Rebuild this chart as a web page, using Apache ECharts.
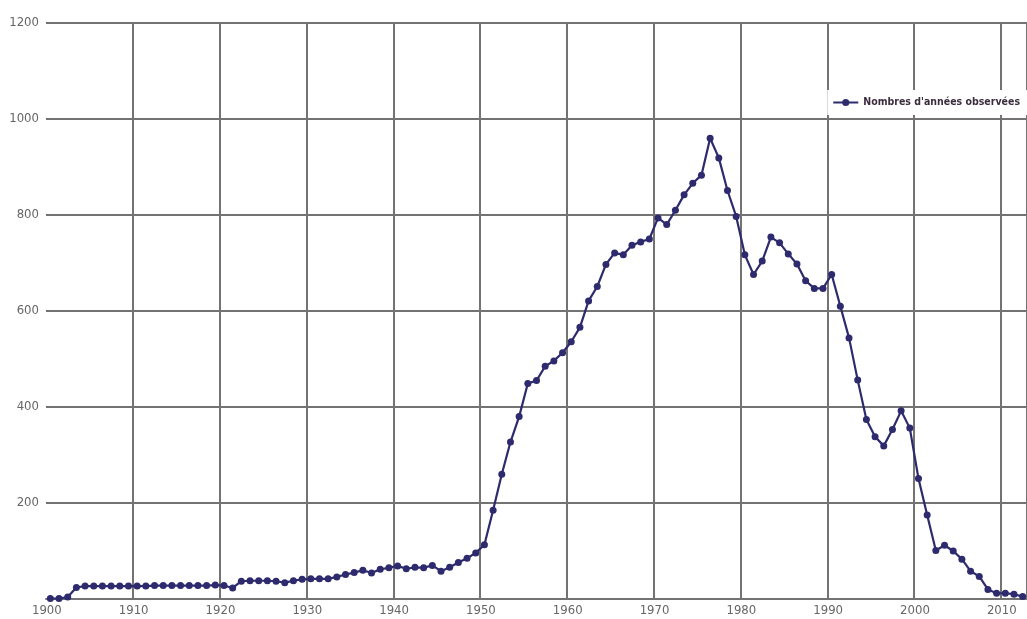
<!DOCTYPE html>
<html>
<head>
<meta charset="utf-8">
<script src="https://cdn.jsdelivr.net/npm/echarts@6/dist/echarts.min.js"></script>
<style>
html,body{margin:0;padding:0;background:#fff;}
#chart{width:1027px;height:619px;}
</style>
</head>
<body>
<div id="chart"></div>
<script>
var years = [
 1900,1901,1902,1903,1904,1905,1906,1907,1908,1909,
 1910,1911,1912,1913,1914,1915,1916,1917,1918,1919,
 1920,1921,1922,1923,1924,1925,1926,1927,1928,1929,
 1930,1931,1932,1933,1934,1935,1936,1937,1938,1939,
 1940,1941,1942,1943,1944,1945,1946,1947,1948,1949,
 1950,1951,1952,1953,1954,1955,1956,1957,1958,1959,
 1960,1961,1962,1963,1964,1965,1966,1967,1968,1969,
 1970,1971,1972,1973,1974,1975,1976,1977,1978,1979,
 1980,1981,1982,1983,1984,1985,1986,1987,1988,1989,
 1990,1991,1992,1993,1994,1995,1996,1997,1998,1999,
 2000,2001,2002,2003,2004,2005,2006,2007,2008,2009,
 2010,2011,2012
];
var observedYears = [
 1,1,4,24,27,27,27,27,27,27,
 27,27,28,28,28,28,28,28,28,29,
 28,23,37,38,38,38,37,34,38,41,
 42,42,42,46,51,55,60,54,62,65,
 69,63,66,65,70,58,66,76,85,96,
 113,185,260,327,380,449,455,485,496,513,
 536,566,621,651,697,721,717,737,744,750,
 794,780,810,842,866,883,960,919,851,797,
 717,676,704,754,742,719,698,663,647,647,
 676,610,544,456,374,338,319,353,392,356,
 251,175,101,112,100,83,58,47,20,12,
 12,10,5
];
var seriesName = "Nombres d'années observées";
var yTicks = {min: 0, max: 1200, interval: 200};

var font = "'Liberation Sans Narrow','DejaVu Sans Condensed','Open Sans',sans-serif";
var gridColor = '#737373';
var chart = echarts.init(document.getElementById('chart'));
chart.setOption({
  animation: false,
  backgroundColor: '#ffffff',
  grid: {left: 46, right: -2, top: 23, bottom: 20, containLabel: false},
  legend: {
    show: true,
    right: 0, top: 90,
    backgroundColor: '#ffffff',
    padding: [7, 7, 7, 5],
    itemWidth: 25, itemHeight: 9,
    itemGap: 5,
    textStyle: {fontFamily: font, fontWeight: 'bold', fontSize: 10.5, color: '#3b2c3e', letterSpacing: -0.4},
    data: [seriesName]
  },
  xAxis: {
    type: 'category',
    data: years,
    boundaryGap: true,
    axisLine: {show: true, lineStyle: {color: gridColor, width: 2}},
    axisTick: {show: false},
    axisLabel: {
      interval: function (i) { return i % 10 === 0; },
      color: '#666666', fontSize: 13, fontFamily: font, margin: 5,
      padding: [0, 7, 0, 0]
    },
    splitLine: {
      show: true,
      interval: function (i) { return i > 0 && i % 10 === 0; },
      lineStyle: {color: gridColor, width: 2}
    }
  },
  yAxis: {
    type: 'value',
    min: yTicks.min, max: yTicks.max, interval: yTicks.interval,
    axisLine: {show: false},
    axisTick: {show: false},
    axisLabel: {
      showMinLabel: false, color: '#666666', fontSize: 13, fontFamily: font, margin: 7,
      formatter: function (v) { return String(v); }
    },
    splitLine: {show: true, lineStyle: {color: gridColor, width: 2}}
  },
  series: [{
    name: seriesName,
    type: 'line',
    data: observedYears,
    showAllSymbol: true,
    symbol: 'circle',
    symbolSize: 7,
    itemStyle: {color: '#2e2a6e'},
    lineStyle: {color: '#2e2a6e', width: 2.2}
  }]
});
</script>
</body>
</html>
